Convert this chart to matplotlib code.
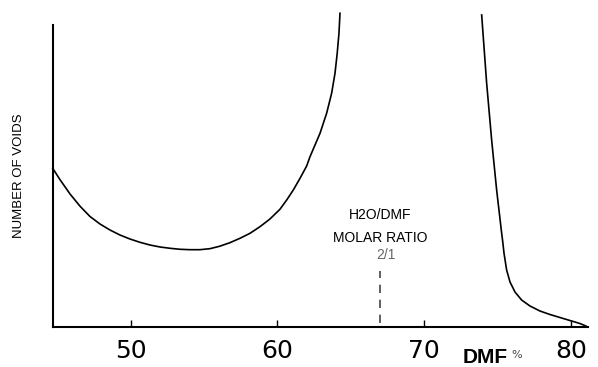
import matplotlib.pyplot as plt

plt.rcParams['figure.dpi'] = 100

# left branch (DMF %, relative number of voids)
left_x = [44.69, 45.18, 45.87, 46.55, 47.23, 47.91, 48.59, 49.27, 49.95, 50.63,
          51.31, 52.00, 52.68, 53.36, 54.04, 54.72, 55.40, 56.08, 56.76, 57.45,
          58.13, 58.81, 59.49, 60.17, 60.63, 61.08, 61.53, 61.99, 62.21, 62.90,
          63.35, 63.69, 63.92, 64.07, 64.19, 64.26]
left_y = [158.7, 147.5, 133, 120.8, 110.5, 103, 97, 92, 88, 84.7,
          82, 80, 78.7, 77.7, 77.3, 77.3, 78.3, 80.8, 84.3, 88.7,
          93.7, 100.3, 108, 117.7, 127, 137, 148.5, 161, 170, 193.7,
          213.7, 233.7, 253.7, 273.7, 293.7, 313.7]

# right branch
right_x = [73.91, 74.25, 74.59, 74.93, 75.27, 75.34, 75.43, 75.61, 75.84, 76.18,
           76.63, 77.20, 77.88, 78.56, 79.24, 79.92, 80.60, 81.01]
right_y = [312, 243.7, 187, 137, 94, 86, 74, 57, 45, 35,
           27, 21, 16, 12.5, 9.5, 6.5, 3.5, 1]

ratio_x = 66.98
xticks = [50, 60, 70, 80]

fig = plt.figure(figsize=(5.98, 3.67))
ax = fig.add_axes([0.0886, 0.109, 0.8946, 0.823])

ax.plot(left_x, left_y, color='black', lw=1.2, clip_on=False)
ax.plot(right_x, right_y, color='black', lw=1.2, clip_on=False)
ax.plot([ratio_x, ratio_x], [4, 56], color='#444444', lw=1.2, ls=(0, (5, 4)))

ax.set_xlim(44.71, 81.15)
ax.set_ylim(0, 302)

for s in ['top', 'right']:
    ax.spines[s].set_visible(False)
ax.spines['left'].set_linewidth(1.5)
ax.spines['bottom'].set_linewidth(1.5)

ax.set_yticks([])
ax.set_xticks(xticks)
ax.tick_params(axis='x', direction='in', length=5, width=1, pad=9, labelsize=18)

ax.set_ylabel('NUMBER OF VOIDS', family='Liberation Sans', fontsize=9.5, labelpad=20)

ax.text(ratio_x, 112, 'H2O/DMF', ha='center', va='center', family='Liberation Sans', fontsize=10)
ax.text(ratio_x, 89, 'MOLAR RATIO', ha='center', va='center', family='Liberation Sans', fontsize=10)
ax.text(ratio_x + 0.4, 72, '2/1', ha='center', va='center', family='Liberation Sans', fontsize=10, color='#666666')

fig.text(463 / 598, 1 - 348 / 367, 'DMF', ha='left', va='top', fontsize=15, fontweight='bold', family='Liberation Sans')
fig.text(511 / 598, 1 - 350 / 367, '%', ha='left', va='top', fontsize=8, color='#444444')

fig.savefig('out.png', dpi=100)
